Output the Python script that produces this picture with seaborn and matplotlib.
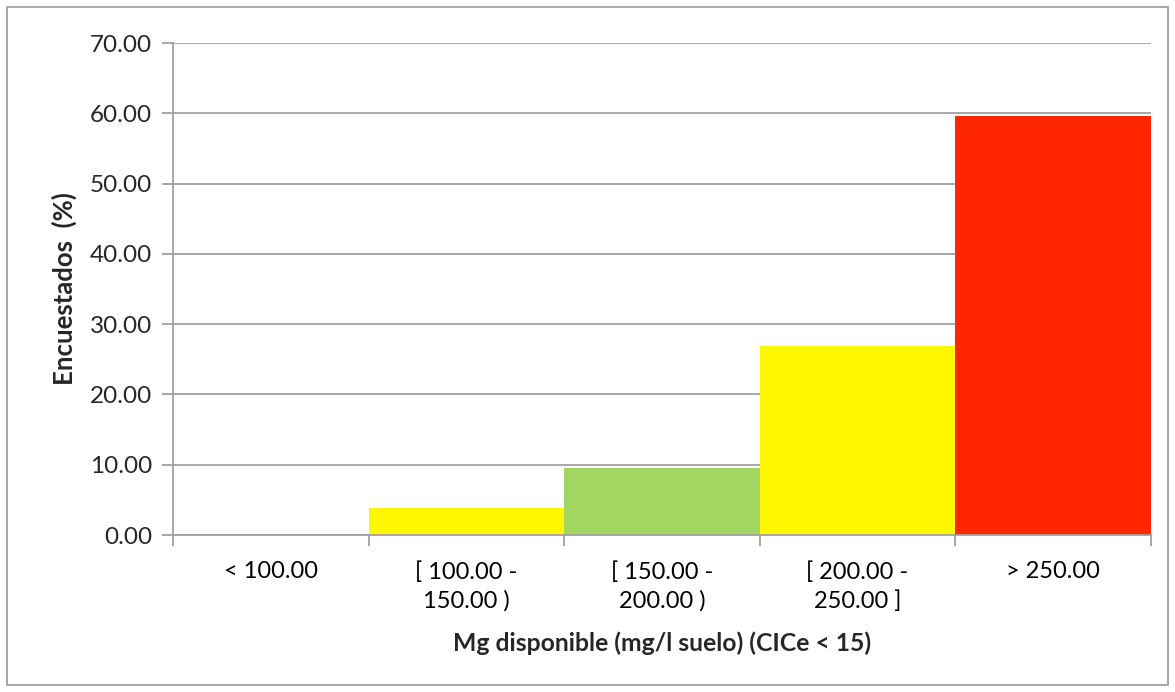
import matplotlib
matplotlib.use("Agg")
import matplotlib.pyplot as plt
from matplotlib.patches import Rectangle
from matplotlib.ticker import FixedLocator
import seaborn as sns

# data
categories = ["< 100.00", "[ 100.00 -\n150.00 )", "[ 150.00 -\n200.00 )",
              "[ 200.00 -\n250.00 ]", "> 250.00"]
encuestados = [0.0, 3.85, 9.6, 26.9, 59.65]
bar_colors = ["#FFFFFF", "#FFF700", "#A2D662", "#FFF700", "#FF2600"]
y_ticks = [0, 10, 20, 30, 40, 50, 60, 70]

sns.set_style("white")
plt.rcParams["font.family"] = ["Lato", "DejaVu Sans"]

grey = "#A0A0A0"
fig = plt.figure(figsize=(11.75, 6.92), dpi=100)
ax = fig.add_axes([173 / 1175, 1 - 535 / 692, (1151 - 173) / 1175, (535 - 43) / 692])

sns.barplot(x=categories, y=encuestados, hue=categories, palette=bar_colors,
            width=1.0, legend=False, ax=ax, linewidth=0, saturation=1)

ax.set_xlim(-0.5, len(categories) - 0.5)
ax.set_ylim(0, 70)
ax.set_yticks(y_ticks)
ax.set_yticklabels([f"{v:.2f}" for v in y_ticks])
ax.yaxis.grid(True, color=grey, linewidth=1.3)
ax.set_axisbelow(True)

# tick labels at centres, tick marks at category boundaries
ax.xaxis.set_minor_locator(FixedLocator([i - 0.5 for i in range(len(categories) + 1)]))
ax.tick_params(axis="x", which="major", length=0, pad=19, labelsize=17, colors="black")
ax.tick_params(axis="x", which="minor", length=8, width=1.3, color=grey, bottom=True)
ax.tick_params(axis="y", which="major", length=8, width=1.3, color=grey, left=True,
               labelsize=17.5, pad=7)
for lbl in ax.get_xticklabels():
    lbl.set_linespacing(1.4)

for side in ["top", "right"]:
    ax.spines[side].set_visible(False)
for side in ["left", "bottom"]:
    ax.spines[side].set_color(grey)
    ax.spines[side].set_linewidth(1.3)

ax.set_xlabel("Mg disponible (mg/l suelo) (CICe < 15)", fontsize=17.8, fontweight="bold", labelpad=14)
ax.set_ylabel("Encuestados  (%)", fontsize=18.5, fontweight="bold", labelpad=9)

fig.patches.append(Rectangle((7 / 1175, 7 / 692), 1161 / 1175, 678 / 692,
                             transform=fig.transFigure, fill=False,
                             edgecolor=grey, linewidth=1.3))

fig.savefig("out.png", dpi=100)
